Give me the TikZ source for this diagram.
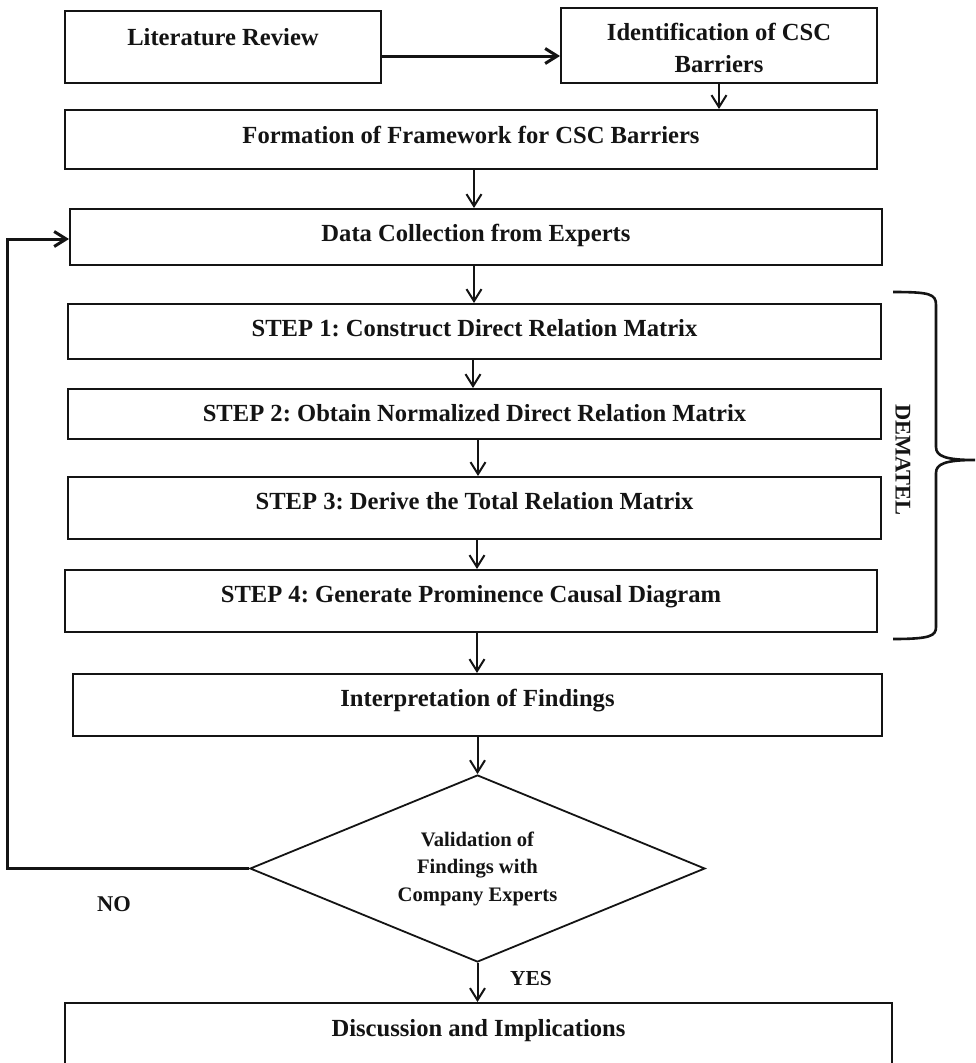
\documentclass[tikz,border=0pt]{standalone}
\usepackage{fontspec}
\setmainfont{Liberation Serif}
\usetikzlibrary{arrows.meta,shapes.geometric}
\definecolor{ink}{HTML}{141414}
\frenchspacing
\begin{document}
\begin{tikzpicture}[x=1pt,y=-1pt]
\tikzset{
 box/.style={draw=ink, line width=2pt, rectangle, inner sep=0pt, font=\bfseries\fontsize{24.6}{32}\selectfont, text=ink, align=center},
 arr/.style={draw=ink, line width=2pt, -{Straight Barb[length=12pt,width=15pt]}},
 tp/.style 2 args={text height=#1pt, text depth=#2pt},
 lbl/.style={text=ink, inner sep=0pt},
}
\useasboundingbox (0,0) rectangle (976,1063);
\clip (0,0) rectangle (976,1063);
\fill[white] (0,0) rectangle (976,1063);

\node[box, minimum width=316pt, minimum height=72pt, tp={18}{22}] (lit) at (223,47) {Literature Review};
\node[box, minimum width=316pt, minimum height=75pt] (ident) at (719,45.5) {\rule{0pt}{22pt}Identification of CSC\\Barriers};
\node[box, minimum width=812pt, minimum height=59pt, tp={23.5}{16.5}] (form) at (471,139.5) {Formation of Framework for CSC Barriers};
\node[box, minimum width=812pt, minimum height=56pt, tp={24}{16}] (data) at (476,237) {Data Collection from Experts};
\node[box, minimum width=813pt, minimum height=55pt, tp={24.5}{15.5}] (s1) at (474.5,331.5) {STEP 1: Construct Direct Relation Matrix};
\node[box, minimum width=813pt, minimum height=50pt, tp={27}{13}] (s2) at (474.5,414) {STEP 2: Obtain Normalized Direct Relation Matrix};
\node[box, minimum width=813pt, minimum height=62pt, tp={21}{19}] (s3) at (474.5,508) {STEP 3: Derive the Total Relation Matrix};
\node[box, minimum width=812pt, minimum height=62pt, tp={21}{19}] (s4) at (471,601) {STEP 4: Generate Prominence Causal Diagram};
\node[box, minimum width=809pt, minimum height=62pt, tp={21}{19}] (interp) at (477.5,705) {Interpretation of Findings};
\node[box, diamond, aspect=2.4, line width=1.8pt, minimum width=455pt, minimum height=187pt, font=\bfseries\fontsize{20.6}{27.5}\selectfont] (val) at (477.5,868.5) {Validation of\\Findings with\\Company Experts};
\node[box, minimum width=827pt, minimum height=87pt, tp={9.5}{30.5}] (disc) at (478.5,1046.5) {Discussion and Implications};

\coordinate (a1) at ([yshift=-9pt]lit.east);
\draw[arr, line width=3pt] (a1) -- (a1 -| ident.west);
\draw[arr] (ident.south) -- (ident.south |- form.north);
\draw[arr] (474,0 |- form.south) -- (474,0 |- data.north);
\draw[arr] (474,0 |- data.south) -- (474,0 |- s1.north);
\draw[arr] (473,0 |- s1.south) -- (473,0 |- s2.north);
\draw[arr] (478,0 |- s2.south) -- (478,0 |- s3.north);
\draw[arr] (477,0 |- s3.south) -- (477,0 |- s4.north);
\draw[arr] (477,0 |- s4.south) -- (477,0 |- interp.north);
\draw[arr] (interp.south -| val.north) -- (val.north);
\draw[arr] (val.south) -- (val.south |- disc.north);
\coordinate (loop) at (7.5,600);
\draw[arr, line width=3pt] (val.west) -| (loop) |- ([yshift=-2pt]data.west);

\node[lbl, font=\bfseries\fontsize{22.5}{27}\selectfont] (no) at (114,904) {NO};
\node[lbl, font=\bfseries\fontsize{21.4}{26}\selectfont] (yes) at (531,979) {YES};
\node[lbl, font=\bfseries\fontsize{22.4}{27}\selectfont, rotate=-90] (dem) at (903,460) {DEMATEL};
\draw[draw=ink, line width=2.6pt] (893,292) .. controls (930,292) and (936,294) .. (936,305) -- (936,447) .. controls (936,456) and (945,460) .. (975,460) .. controls (945,460) and (936,464) .. (936,473) -- (936,627) .. controls (936,636) and (930,639) .. (893,639);
\end{tikzpicture}
\end{document}
